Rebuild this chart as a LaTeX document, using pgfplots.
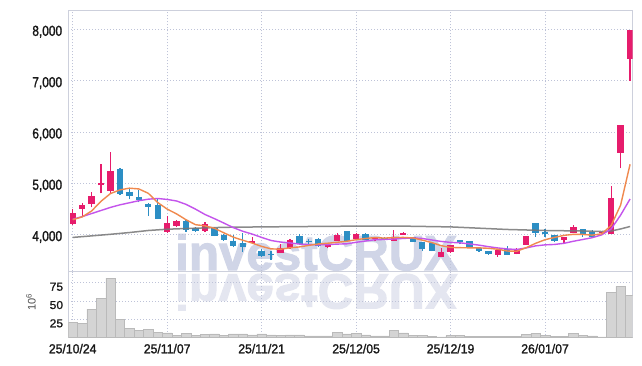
\documentclass[border=0pt]{standalone}
\usepackage{pgfplots}
\pgfplotsset{compat=1.18}
\usepackage{pgfplotstable}
\usepackage{fontspec}
\setmainfont{Liberation Sans}
\newfontfamily\ylab{Liberation Sans}[FakeStretch=0.82, FakeBold=1.4]
\newfontfamily\vlab{Liberation Sans}[FakeStretch=1.05, FakeBold=1.0]
\newfontfamily\xlab{Liberation Sans}[FakeStretch=0.94, FakeBold=1.5]
\newfontfamily\plainlab{Liberation Sans}
\newfontfamily\wmfont{Liberation Sans}[BoldFeatures={FakeBold=2.2}]

\definecolor{pinkc}{RGB}{230,28,108}
\definecolor{bluec}{RGB}{44,142,196}
\definecolor{ma5}{RGB}{240,137,78}
\definecolor{ma10}{RGB}{196,84,236}
\definecolor{malong}{RGB}{118,118,118}
\definecolor{gridc}{RGB}{190,195,216}
\definecolor{axc}{RGB}{205,208,220}
\definecolor{wmc}{RGB}{208,213,231}
\definecolor{wmr}{RGB}{228,230,240}
\definecolor{volf}{RGB}{212,212,212}
\definecolor{vold}{RGB}{186,186,186}

% up candles: index open high low close
\pgfplotstableread{
i o h l c
0 4207 4499 4187 4415
1 4505 4610 4337 4571
2 4602 4830 4532 4752
3 4961 5376 4805 5000
4 4850 5604 4805 5240
10 4057 4363 4040 4220
11 4168 4290 4148 4271
14 4076 4240 4060 4200
19 3842 3958 3835 3881
22 3650 3817 3640 3745
23 3740 3910 3725 3895
27 3764 3840 3745 3817
28 3877 4025 3870 3992
30 3916 4040 3910 4010
32 3908 3945 3870 3940
34 3880 4085 3875 3960
35 4000 4045 3995 4040
39 3570 3730 3560 3652
40 3655 3800 3650 3795
45 3603 3700 3570 3695
47 3628 3730 3615 3725
48 3803 3980 3800 3973
52 3895 3955 3830 3947
53 4037 4180 4030 4154
56 4025 4060 4010 4045
57 4020 4947 4018 4715
58 5596 6140 5292 6136
59 7428 7990 7000 7988
}\up

% down candles
\pgfplotstableread{
i o h l c
5 5284 5290 4780 4791
6 4836 4883 4688 4752
7 4733 4869 4630 4668
8 4596 4622 4362 4544
9 4577 4700 4300 4310
12 4271 4290 4057 4090
13 4135 4150 4050 4076
15 4129 4140 3970 3979
16 3998 4020 3880 3895
17 3881 3992 3753 3778
18 3842 4025 3667 3753
20 3690 3714 3558 3575
21 3630 3686 3505 3595
24 3978 4012 3810 3813
25 3881 3908 3817 3850
26 3914 3925 3764 3770
29 4070 4075 3875 3881
31 4008 4030 3895 3900
33 3940 3960 3890 3900
36 3955 3960 3855 3862
37 3860 3862 3680 3719
38 3830 3835 3680 3686
41 3890 3900 3810 3862
42 3875 3880 3730 3733
43 3733 3740 3670 3680
44 3686 3690 3610 3616
46 3713 3778 3600 3603
49 4220 4225 3960 4025
50 4057 4103 3960 4012
51 3986 4000 3860 3869
54 4109 4115 3960 4012
55 4051 4085 3955 3959
}\down

% moving averages
\pgfplotstableread{
i m5 m10
0 4290 4300
1 4345 4350
2 4460 4410
3 4650 4470
4 4800 4530
5 4871 4580
6 4905 4620
7 4890 4660
8 4805 4690
9 4625 4704
10 4497 4685
11 4403 4655
12 4289 4589
13 4193 4496
14 4171 4392
15 4123 4311
16 4035 4225
17 3950 4136
18 3890 4065
19 3835 4010
20 3770 3945
21 3722 3885
22 3715 3855
23 3742 3838
24 3760 3815
25 3790 3805
26 3818 3800
27 3832 3805
28 3850 3815
29 3870 3820
30 3900 3850
31 3925 3875
32 3942 3900
33 3932 3905
34 3942 3915
35 3945 3925
36 3935 3935
37 3893 3925
38 3845 3895
39 3785 3867
40 3750 3848
41 3745 3840
42 3742 3818
43 3742 3795
44 3733 3765
45 3715 3740
46 3680 3720
47 3675 3710
48 3745 3740
49 3830 3780
50 3900 3800
51 3945 3808
52 3985 3830
53 4005 3870
54 4003 3905
55 3990 3940
56 4015 3995
57 4177 4110
58 4575 4380
59 5370 4694
}\mas

\pgfplotstableread{
i m
0 3945
2 3975
4 4006
6 4040
8 4080
10 4105
13 4125
16 4142
20 4150
25 4158
30 4165
35 4165
40 4150
43 4125
46 4100
50 4080
54 4070
56 4060
57 4070
58 4110
59 4158
}\mal

% volume (10^6)
\pgfplotstableread{
i v
0 21.3
1 19.9
2 39
3 54
4 81.4
5 25.4
6 13.1
7 9.5
8 10.8
9 7.6
10 6.3
11 3.1
12 5.8
13 2.6
14 4.5
15 5
16 3.2
17 5
18 5
19 3.6
20 5
21 3.6
22 3.2
23 3.6
24 3.6
25 2.3
26 2.3
27 2.3
28 7.5
29 5
30 6.2
31 3.8
32 2.3
33 2.3
34 10
35 6.3
36 3.4
37 2.6
38 1.5
39 1
40 2.6
41 3.1
42 1.5
43 1.2
44 1.2
45 1.5
46 1.2
47 1.5
48 4.5
49 6
50 3
51 1.5
52 1.5
53 5.8
54 3.2
55 2.5
56 1
57 61.9
58 70
59 58
}\vol

\pgfplotsset{
  panel/.style={
    scale only axis, width=564.4pt,
    xmin=-0.466, xmax=59.28,
    xtick={0,10,20,30,40,50},
    grid=major,
    major grid style={dash pattern=on 1pt off 2pt, color=gridc, line width=0.6pt},
    major tick length=0pt,
    axis line style={draw=axc, line width=0.8pt},
    clip=true,
  }
}

\begin{document}
\begin{tikzpicture}[x=1pt,y=1pt]
\fill[white] (0,0) rectangle (642,366);
% watermark and its reflection
\node[anchor=base west, inner sep=0pt, text=wmc] at (175,96)
  {\wmfont\bfseries\fontsize{49.3}{50}\selectfont investCRUX};
\node[anchor=base west, inner sep=0pt, text=wmr] at (175,91.5)
  {\scalebox{1}[-1]{\wmfont\bfseries\fontsize{49.3}{50}\selectfont investCRUX}};

\begin{axis}[panel,
  at={(68.3pt,94.5pt)}, anchor=south west, height=261.5pt,
  ymin=3281, ymax=8377,
  ytick={4000,5000,6000,7000,8000},
  yticklabels={{4,000},{5,000},{6,000},{7,000},{8,000}},
  xticklabels={},
  yticklabel style={font=\ylab\fontsize{14.5}{16}\selectfont, text=black!90, anchor=base east, inner sep=0pt, xshift=-6pt, yshift=-6.5pt},
]
% wicks
\addplot[quiver={u=0, v=\thisrow{h}-\thisrow{l}}, draw=pinkc, line width=1.2pt] table[x=i, y=l] {\up};
\addplot[quiver={u=0, v=\thisrow{h}-\thisrow{l}}, draw=bluec, line width=1.2pt] table[x=i, y=l] {\down};
% bodies
\addplot[quiver={u=0, v=\thisrow{c}-\thisrow{o}}, draw=pinkc, line width=6.3pt] table[x=i, y=o] {\up};
\addplot[quiver={u=0, v=\thisrow{c}-\thisrow{o}}, draw=bluec, line width=6.3pt] table[x=i, y=o] {\down};
% moving averages
\addplot[malong, line width=1.5pt, opacity=0.85, line join=round] table[x=i, y=m] {\mal};
\addplot[ma10, line width=1.4pt, line join=round] table[x=i, y=m10] {\mas};
\addplot[ma5, line width=1.4pt, line join=round] table[x=i, y=m5] {\mas};
\end{axis}

\begin{axis}[panel,
  at={(68.3pt,28.4pt)}, anchor=south west, height=66.1pt,
  ymin=0, ymax=90.3,
  ytick={25,50,75},
  yticklabels={25,50,75},
  yticklabel style={font=\vlab\fontsize{11.5}{13}\selectfont, text=black!90, anchor=base east, inner sep=0pt, xshift=-5pt, yshift=-8pt},
  xticklabels={25/10/24,25/11/07,25/11/21,25/12/05,25/12/19,26/01/07},
  xticklabel style={font=\xlab\fontsize{13}{15}\selectfont, text=black!90, anchor=base, inner sep=0pt, yshift=-15.7pt},
]
\addplot[ybar, bar width=1, fill=volf, draw=vold, line width=0.5pt] table[x=i, y=v] {\vol};
\end{axis}

\node[rotate=90, inner sep=0pt, text=black!70] at (31,64)
  {\plainlab\fontsize{11}{12}\selectfont 10\textsuperscript{6}};
\pgfresetboundingbox
\useasboundingbox (0,0) rectangle (642,366);
\end{tikzpicture}
\end{document}
